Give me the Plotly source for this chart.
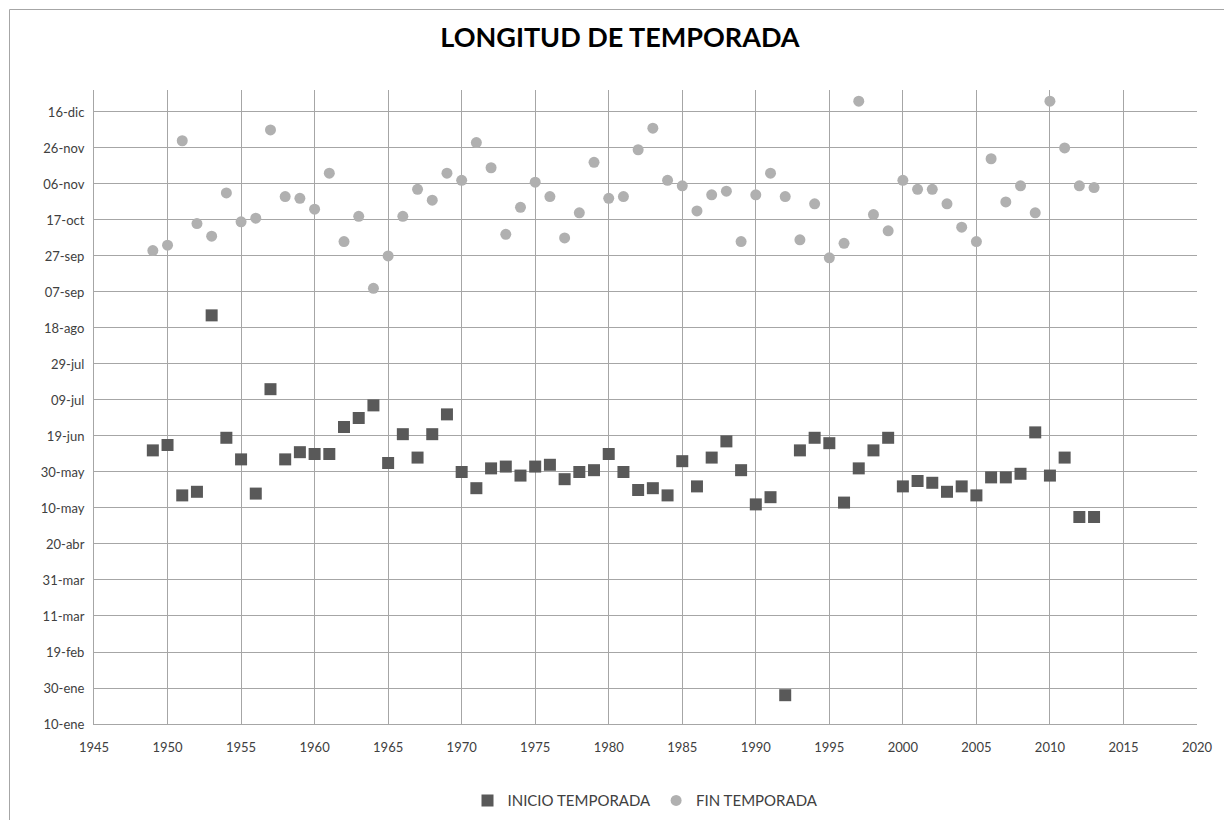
import plotly.graph_objects as go

years = list(range(1949, 2014))

# Day of year (non-leap) for start of season
inicio = [162, 165, 137, 139, 237, 169, 157, 138, 196, 157,
          161, 160, 160, 175, 180, 187, 155, 171, 158, 171,
          182, 150, 141, 152, 153, 148, 153, 154, 146, 150,
          151, 160, 150, 140, 141, 137, 156, 142, 158, 167,
          151, 132, 136, 26, 162, 169, 166, 133, 152, 162,
          169, 142, 145, 144, 139, 142, 137, 147, 147, 149,
          172, 148, 158, 125, 125]

# Day of year for end of season
fin = [273, 276, 334, 288, 281, 305, 289, 291, 340, 303,
       302, 296, 316, 278, 292, 252, 270, 292, 307, 301,
       316, 312, 333, 319, 282, 297, 311, 303, 280, 294,
       322, 302, 303, 329, 341, 312, 309, 295, 304, 306,
       278, 304, 316, 303, 279, 299, 269, 277, 356, 293,
       284, 312, 307, 307, 299, 286, 278, 324, 300, 309,
       294, 356, 330, 309, 308]

tick_days = [10, 30, 50, 70, 90, 110, 130, 150, 170, 190,
             210, 230, 250, 270, 290, 310, 330, 350]
tick_labels = ["10-ene", "30-ene", "19-feb", "11-mar", "31-mar", "20-abr",
               "10-may", "30-may", "19-jun", "09-jul", "29-jul", "18-ago",
               "07-sep", "27-sep", "17-oct", "06-nov", "26-nov", "16-dic"]
x_ticks = list(range(1945, 2021, 5))

FONT = "Lato, Open Sans, sans-serif"

fig = go.Figure()
fig.add_trace(go.Scatter(
    x=years, y=inicio, mode="markers", name="INICIO TEMPORADA",
    marker=dict(symbol="square", size=12, color="#595959"),
))
fig.add_trace(go.Scatter(
    x=years, y=fin, mode="markers", name="FIN TEMPORADA",
    marker=dict(symbol="circle", size=11, color="#b0b0b0"),
))

fig.update_layout(
    width=1224, height=812,
    paper_bgcolor="white", plot_bgcolor="white",
    margin=dict(l=86, r=35, t=82, b=96, autoexpand=False),
    title=dict(text="<b>LONGITUD DE TEMPORADA</b>", x=0.5, xanchor="center",
               y=0.963, yanchor="middle",
               font=dict(family=FONT, size=27, color="#000000")),
    font=dict(family=FONT, size=13, color="#404040"),
    showlegend=True,
    legend=dict(orientation="h", x=0.5, xanchor="center", y=-0.095, yanchor="top",
                font=dict(family=FONT, size=15, color="#404040")),
    xaxis=dict(range=[1945, 2020], tickvals=x_ticks, showgrid=True,
               gridcolor="#a6a6a6", gridwidth=1, zeroline=False,
               showline=True, linecolor="#a6a6a6", ticks="", ticklen=0,
               ticklabelstandoff=11,
               tickfont=dict(size=13, color="#404040")),
    yaxis=dict(range=[10, 362.2], tickvals=tick_days, ticktext=tick_labels,
               showgrid=True, gridcolor="#a6a6a6", gridwidth=1, zeroline=False,
               showline=True, linecolor="#a6a6a6", ticks="",
               ticklabelstandoff=6,
               tickfont=dict(size=13, color="#404040")),
)

# chart border (only left and top edges visible in the reference crop)
fig.add_shape(type="rect", xref="paper", yref="paper",
              x0=(9.5-94)/1103, x1=(1300-94)/1103, y0=-(900-724)/634, y1=(724-9.5)/634,
              line=dict(color="#a6a6a6", width=1), layer="below")

fig.write_html("out.html")
